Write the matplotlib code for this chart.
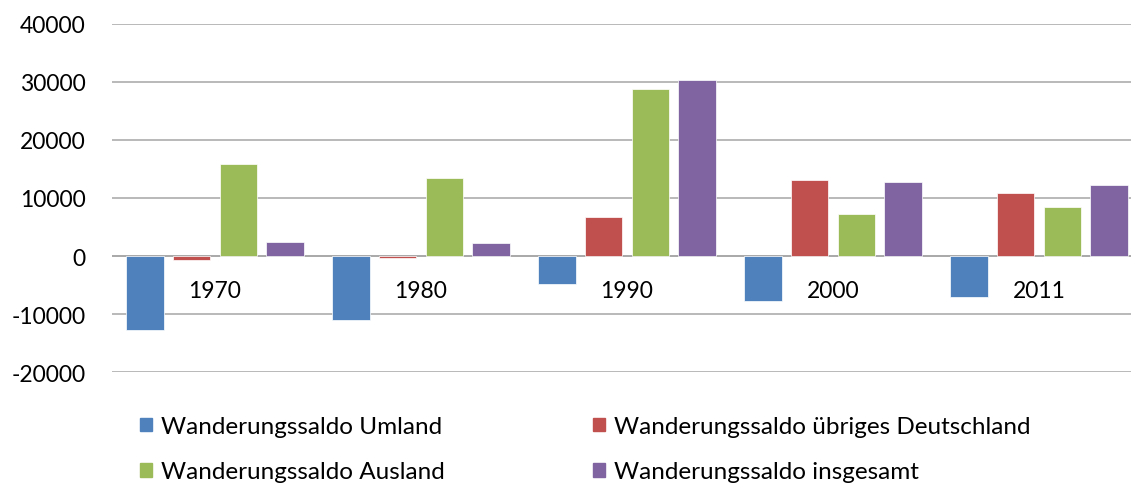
import numpy as np
import matplotlib
matplotlib.use("Agg")
import matplotlib.pyplot as plt
from matplotlib.patches import Patch

plt.rcParams['font.family'] = ['Lato', 'DejaVu Sans']
plt.rcParams['axes.unicode_minus'] = False

# Daten
jahre = ['1970', '1980', '1990', '2000', '2011']
umland = [-12800, -11000, -4900, -7700, -7000]
uebriges_de = [-700, -300, 6700, 13100, 10800]
ausland = [15900, 13500, 28800, 7200, 8400]
insgesamt = [2400, 2200, 30400, 12700, 12200]

serien = ['Wanderungssaldo Umland', 'Wanderungssaldo übriges Deutschland',
          'Wanderungssaldo Ausland', 'Wanderungssaldo insgesamt']
farben = ['#4F81BD', '#C0504D', '#9BBB59', '#8064A2']

fs = 16.5
fig = plt.figure(figsize=(11.31, 4.89), dpi=100)
ax = fig.add_axes([112 / 1131, 0.2372, 1030 / 1131, 0.7117])

x = np.arange(len(jahre))
pitch = 0.227
breite = 0.182
for k, (werte, farbe) in enumerate(zip([umland, uebriges_de, ausland, insgesamt], farben)):
    ax.bar(x + (k - 1.5) * pitch, werte, breite, color=farbe,
           edgecolor='white', linewidth=0.5, zorder=3)

ax.set_xlim(-0.5, 4.5)
ax.set_ylim(-20000, 40000)
ax.set_yticks(np.arange(-20000, 40001, 10000))
ax.yaxis.grid(True, color='#a6a6a6', linewidth=1.1, zorder=0)
ax.axhline(0, color='#a6a6a6', linewidth=1.1, zorder=1)
ax.tick_params(axis='y', length=0, pad=19, labelsize=fs)
ax.set_xticks([])
for s in ax.spines.values():
    s.set_visible(False)

# Jahresbeschriftung unter der Nulllinie
for i, j in enumerate(jahre):
    ax.annotate(j, (i, 0), xytext=(0, -25), textcoords='offset points',
                ha='center', va='center', fontsize=fs, zorder=4)

# Legende in zwei Spalten
handles = [Patch(color=c) for c in farben]
opts = dict(frameon=False, fontsize=17.5, handlelength=0.5, handleheight=0.5,
            handletextpad=0.35, labelspacing=1.0, borderpad=0, borderaxespad=0,
            loc='upper left')
fig.legend([handles[0], handles[2]], [serien[0], serien[2]],
           bbox_to_anchor=(140 / 1131, 0.147), **opts)
fig.legend([handles[1], handles[3]], [serien[1], serien[3]],
           bbox_to_anchor=(593 / 1131, 0.147), **opts)

plt.savefig('out.png', dpi=100)
plt.close()
